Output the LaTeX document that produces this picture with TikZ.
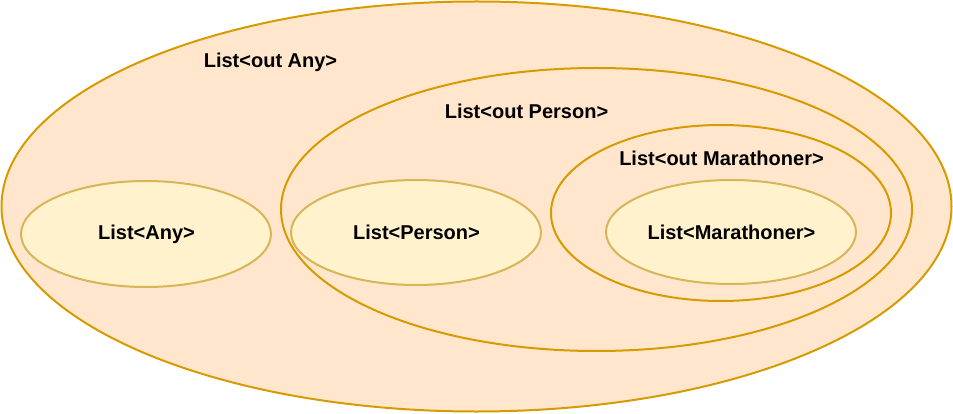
\documentclass[tikz,border=0pt]{standalone}
\usepackage{fontspec}
\setmainfont{Liberation Sans}
\usetikzlibrary{shapes.geometric}
\definecolor{outfill}{HTML}{FFE6CC}
\definecolor{outdraw}{HTML}{D79B00}
\definecolor{infill}{HTML}{FFF2CC}
\definecolor{indraw}{HTML}{D6B656}
\tikzset{
  outset/.style={ellipse, fill=outfill, draw=outdraw, line width=2pt, inner sep=0pt},
  inset/.style={ellipse, fill=infill, draw=indraw, line width=2pt, inner sep=0pt},
  lbl/.style={font=\bfseries\fontsize{20}{24}\selectfont, text=black, inner sep=0pt}
}
\begin{document}
\begin{tikzpicture}[x=1pt,y=-1pt]
\useasboundingbox (0,0) rectangle (953,414);
\node[outset, minimum width=950pt, minimum height=410pt] (anyout) at (476.5,206.5) {};
\node[outset, minimum width=631pt, minimum height=283pt] (personout) at (596.5,209.5) {};
\node[outset, minimum width=340pt, minimum height=176pt] (maraout) at (721,213) {};
\node[inset, minimum width=250pt, minimum height=106pt] (any) at (146,234) {};
\node[inset, minimum width=250pt, minimum height=105pt] (person) at (416,232.5) {};
\node[inset, minimum width=250pt, minimum height=104pt] (mara) at (731,232) {};
\node[lbl] (lanyout) at (270.5,62) {List<out Any>};
\node[lbl] (lpersonout) at (526.5,111) {List<out Person>};
\node[lbl] (lmaraout) at (721.5,158) {List<out Marathoner>};
\node[lbl] (lany) at (146.5,234) {List<Any>};
\node[lbl] (lperson) at (416.5,232) {List<Person>};
\node[lbl] (lmara) at (731.5,232) {List<Marathoner>};
\end{tikzpicture}
\end{document}
